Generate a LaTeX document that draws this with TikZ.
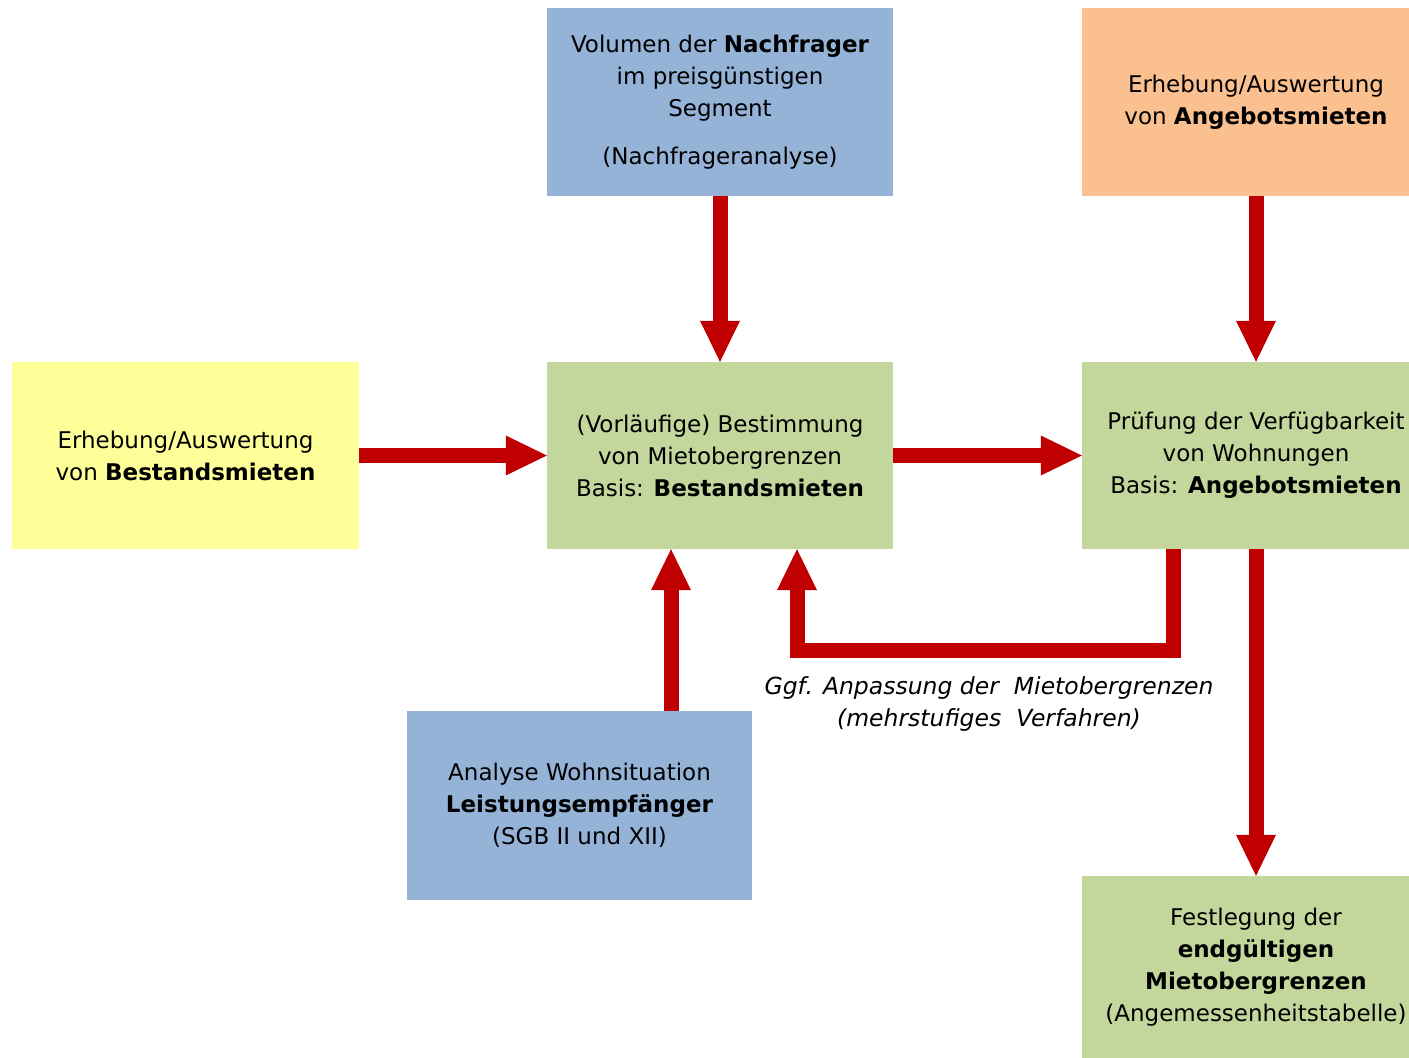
\documentclass[tikz,border=0pt]{standalone}
\usepackage{fontspec}
\setmainfont{DejaVu Sans}
\usetikzlibrary{arrows.meta}
\definecolor{bluebox}{HTML}{95B3D7}
\definecolor{orangebox}{HTML}{FAC090}
\definecolor{yellowbox}{HTML}{FFFF99}
\definecolor{greenbox}{HTML}{C3D69B}
\definecolor{redarrow}{HTML}{C00000}
\begin{document}
\begin{tikzpicture}[x=1pt,y=-1pt,
  box/.style={inner sep=0pt, align=center, font=\fontsize{23}{32}\selectfont},
  arr/.style={draw=redarrow, line width=15pt, line join=miter,
    -{Triangle[length=41pt,width=40pt,line width=0pt]}},
  lbl/.style={inner sep=0pt, align=center, font=\fontsize{23.5}{32}\selectfont\itshape}]
\useasboundingbox (0,0) rectangle (1409,1058);
\node[box, fill=bluebox, minimum width=346pt, minimum height=188pt] (nach) at (720,102)
  {Volumen der \textbf{Nachfrager}\\im preisgünstigen\\Segment\\[16pt](Nachfrageranalyse)};
\node[box, fill=orangebox, minimum width=348pt, minimum height=188pt] (angeb) at (1256,102)
  {Erhebung/Auswertung\\von \textbf{Angebotsmieten}};
\node[box, fill=yellowbox, minimum width=347pt, minimum height=187pt] (bestand) at (185.5,455.5)
  {Erhebung/Auswertung\\von \textbf{Bestandsmieten}};
\node[box, fill=greenbox, minimum width=346pt, minimum height=187pt] (best) at (720,455.5)
  {(Vorläufige) Bestimmung\\von Mietobergrenzen\\Basis: \textbf{Bestandsmieten}};
\node[box, fill=greenbox, minimum width=348pt, minimum height=187pt] (pruef) at (1256,455.5)
  {Prüfung der Verfügbarkeit\\von Wohnungen\\Basis: \textbf{Angebotsmieten}};
\node[box, fill=bluebox, minimum width=345pt, minimum height=189pt] (leist) at (579.5,805.5)
  {Analyse Wohnsituation\\\textbf{Leistungsempfänger}\\(SGB II und XII)};
\node[box, fill=greenbox, minimum width=348pt, minimum height=182pt] (fest) at (1256,967)
  {Festlegung der\\\textbf{endgültigen}\\\textbf{Mietobergrenzen}\\(Angemessenheitstabelle)};
\node[lbl] (anp) at (989,704) {Ggf. Anpassung der\ \ Mietobergrenzen\\(mehrstufiges\ \ Verfahren)};
\coordinate (colB) at (671,0);
\coordinate (fbR) at (1173,650);
\coordinate (fbL) at (797,650);
\draw[arr] (nach.south) -- (best.north);
\draw[arr] (angeb.south) -- (pruef.north);
\draw[arr] (bestand.east) -- (best.west);
\draw[arr] (best.east) -- (pruef.west);
\draw[arr] (leist.north -| colB) -- (best.south -| colB);
\draw[arr] (pruef.south -| fbR) |- (fbL) -- (best.south -| fbL);
\draw[arr] (pruef.south) -- (fest.north);
\end{tikzpicture}
\end{document}
